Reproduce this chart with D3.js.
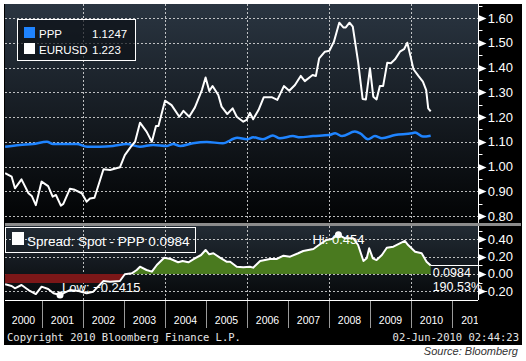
<!DOCTYPE html>
<html>
<head>
<meta charset="utf-8">
<script src="https://cdn.jsdelivr.net/npm/d3@7"></script>
<style>
  html, body { margin: 0; padding: 0; background: #fff; }
  svg { display: block; font-family: "Liberation Sans", Arial, sans-serif; }
</style>
</head>
<body>
<div id="chart"></div>
<script>
// EUR/USD spot (decimal year, value)
const spotDates = [2000.10, 2000.26, 2000.34, 2000.50, 2000.67, 2000.75, 2000.85, 2000.99, 2001.15, 2001.26,
    2001.34, 2001.46, 2001.52, 2001.68, 2001.80, 2001.97, 2002.09, 2002.17, 2002.28, 2002.50,
    2002.66, 2002.90, 2003.02, 2003.16, 2003.27, 2003.39, 2003.55, 2003.68, 2003.78, 2003.84,
    2004.00, 2004.16, 2004.35, 2004.45, 2004.59, 2004.73, 2004.90, 2004.99, 2005.08, 2005.16,
    2005.30, 2005.38, 2005.52, 2005.65, 2005.75, 2005.91, 2005.99, 2006.07, 2006.15, 2006.28,
    2006.41, 2006.60, 2006.74, 2006.90, 2007.03, 2007.17, 2007.31, 2007.41, 2007.60, 2007.68,
    2007.76, 2007.90, 2008.01, 2008.12, 2008.25, 2008.35, 2008.41, 2008.50, 2008.58, 2008.71,
    2008.82, 2008.90, 2009.00, 2009.08, 2009.16, 2009.24, 2009.32, 2009.42, 2009.51, 2009.61,
    2009.73, 2009.83, 2009.91, 2009.99, 2010.06, 2010.18, 2010.29, 2010.37, 2010.42, 2010.48];
const spotValues = [0.973, 0.959, 0.912, 0.948, 0.892, 0.881, 0.844, 0.939, 0.921, 0.878,
    0.885, 0.842, 0.849, 0.910, 0.906, 0.892, 0.858, 0.871, 0.874, 0.989,
    0.986, 0.997, 1.046, 1.078, 1.100, 1.177, 1.141, 1.100, 1.164, 1.164,
    1.266, 1.248, 1.201, 1.225, 1.201, 1.239, 1.309, 1.360, 1.305, 1.325,
    1.289, 1.242, 1.212, 1.235, 1.201, 1.181, 1.188, 1.217, 1.191, 1.228,
    1.280, 1.280, 1.269, 1.325, 1.306, 1.329, 1.366, 1.345, 1.370, 1.366,
    1.437, 1.464, 1.468, 1.504, 1.581, 1.562, 1.562, 1.581, 1.565, 1.423,
    1.273, 1.271, 1.397, 1.282, 1.271, 1.325, 1.325, 1.419, 1.417, 1.433,
    1.464, 1.474, 1.500, 1.444, 1.393, 1.366, 1.343, 1.309, 1.235, 1.223];

// PPP
const pppDates = [2000.10, 2000.46, 2000.78, 2001.12, 2001.27, 2001.85, 2002.10, 2002.41, 2002.73, 2003.07,
    2003.39, 2003.71, 2004.05, 2004.20, 2004.37, 2004.68, 2005.02, 2005.41, 2005.76, 2006.00,
    2006.15, 2006.39, 2006.63, 2006.80, 2007.12, 2007.29, 2007.61, 2008.00, 2008.15, 2008.32,
    2008.63, 2008.76, 2008.95, 2009.12, 2009.29, 2009.61, 2010.02, 2010.10, 2010.29, 2010.48];
const pppValues = [1.080, 1.087, 1.091, 1.100, 1.091, 1.091, 1.080, 1.080, 1.083, 1.091,
    1.080, 1.087, 1.083, 1.091, 1.083, 1.094, 1.099, 1.094, 1.116, 1.110,
    1.118, 1.110, 1.125, 1.114, 1.123, 1.118, 1.123, 1.127, 1.134, 1.123,
    1.141, 1.134, 1.110, 1.123, 1.114, 1.127, 1.134, 1.137, 1.121, 1.1247];

// Spread: Spot - PPP
const spreadDates = [2000.10, 2000.26, 2000.34, 2000.50, 2000.67, 2000.85, 2000.99, 2001.15, 2001.28, 2001.44,
    2001.68, 2001.89, 2002.09, 2002.25, 2002.50, 2002.66, 2002.90, 2003.02, 2003.19, 2003.31,
    2003.39, 2003.55, 2003.68, 2003.80, 2003.98, 2004.14, 2004.32, 2004.43, 2004.57, 2004.73,
    2004.88, 2004.99, 2005.08, 2005.18, 2005.34, 2005.50, 2005.59, 2005.75, 2005.91, 2006.07,
    2006.15, 2006.32, 2006.56, 2006.72, 2006.89, 2007.05, 2007.25, 2007.37, 2007.62, 2007.78,
    2007.94, 2008.07, 2008.23, 2008.39, 2008.59, 2008.71, 2008.84, 2008.92, 2008.98, 2009.07,
    2009.16, 2009.29, 2009.41, 2009.57, 2009.85, 2009.93, 2010.10, 2010.26, 2010.38, 2010.48];
const spreadValues = [-0.119, -0.138, -0.165, -0.127, -0.185, -0.231, -0.146, -0.173, -0.223, -0.2415,
    -0.185, -0.196, -0.223, -0.204, -0.081, -0.089, -0.081, -0.003, 0.008, 0.046,
    0.084, 0.046, 0.027, 0.104, 0.188, 0.173, 0.135, 0.150, 0.135, 0.181,
    0.219, 0.277, 0.227, 0.239, 0.188, 0.142, 0.142, 0.084, 0.077, 0.084,
    0.073, 0.150, 0.173, 0.173, 0.211, 0.200, 0.239, 0.265, 0.288, 0.343,
    0.392, 0.404, 0.454, 0.412, 0.412, 0.334, 0.150, 0.181, 0.296, 0.181,
    0.161, 0.219, 0.303, 0.315, 0.381, 0.334, 0.257, 0.239, 0.142, 0.0984];

const years = d3.range(2000, 2012);
const gridYears = [2002, 2004, 2006, 2008, 2010];
const topTicks = [1.6, 1.5, 1.4, 1.3, 1.2, 1.1, 1.0, 0.9, 0.8];
const bottomTicks = [0.4, 0.2, 0.0, -0.2];

const WHITE = "#ffffff";
const BLUE = "#1f84ff";
const GREEN = "#4a7a1f";
const RED = "#7c1718";
const MONO = "'DejaVu Sans Mono', 'Liberation Mono', monospace";

class SpotPppChart {
    constructor(selector) {
        this.width = 526;
        this.height = 361;
        this.left = 5;
        this.axisX = 478;

        this.spot = spotDates.map((d, i) => [d, spotValues[i]]);
        this.ppp = pppDates.map((d, i) => [d, pppValues[i]]);
        this.spread = spreadDates.map((d, i) => [d, spreadValues[i]]);

        this.svg = d3.select(selector).append("svg")
            .attr("width", this.width)
            .attr("height", this.height);

        this.createScales()
            .drawBackground()
            .drawGrid()
            .drawSpread()
            .drawLines()
            .drawAxes()
            .drawLegends()
            .drawFooter();
    }

    createScales() {
        this.x = d3.scaleLinear().domain([2000, 2012]).range([1, 493]);
        this.yTop = d3.scaleLinear().domain([0.7758, 1.6566]).range([222, 4]);
        this.yBot = d3.scaleLinear().domain([-0.3, 0.542]).range([300, 227]);
        return this;
    }

    drawBackground() {
        const defs = this.svg.append("defs");

        const g1 = defs.append("linearGradient").attr("id", "topBg")
            .attr("x1", 0).attr("y1", 0).attr("x2", 0).attr("y2", 1);
        g1.append("stop").attr("offset", "0%").attr("stop-color", "#2a3541");
        g1.append("stop").attr("offset", "100%").attr("stop-color", "#020304");

        const g2 = defs.append("linearGradient").attr("id", "botBg")
            .attr("x1", 0).attr("y1", 0).attr("x2", 0).attr("y2", 1);
        g2.append("stop").attr("offset", "0%").attr("stop-color", "#222b34");
        g2.append("stop").attr("offset", "100%").attr("stop-color", "#06080a");

        // red fill only shows a band just under zero
        const g3 = defs.append("linearGradient").attr("id", "redFill")
            .attr("gradientUnits", "userSpaceOnUse")
            .attr("x1", 0).attr("x2", 0)
            .attr("y1", this.yBot(0)).attr("y2", this.yBot(-0.3));
        g3.append("stop").attr("offset", "0%").attr("stop-color", RED);
        g3.append("stop").attr("offset", "33%").attr("stop-color", RED);
        g3.append("stop").attr("offset", "34%").attr("stop-color", RED).attr("stop-opacity", 0);
        g3.append("stop").attr("offset", "100%").attr("stop-color", RED).attr("stop-opacity", 0);

        defs.append("clipPath").attr("id", "clipTop").append("rect")
            .attr("x", this.left).attr("y", 4).attr("width", this.axisX - this.left).attr("height", 219);
        defs.append("clipPath").attr("id", "clipBot").append("rect")
            .attr("x", this.left).attr("y", 226).attr("width", this.axisX - this.left).attr("height", 74);
        defs.append("clipPath").attr("id", "clipYears").append("rect")
            .attr("x", this.left).attr("y", 300).attr("width", this.axisX - this.left).attr("height", 30);

        this.svg.append("rect").attr("x", 4).attr("y", 4).attr("width", 518).attr("height", 341)
            .attr("fill", "#000");
        this.svg.append("rect").attr("x", this.left).attr("y", 4)
            .attr("width", this.axisX - this.left).attr("height", 219).attr("fill", "url(#topBg)");
        this.svg.append("rect").attr("x", this.left).attr("y", 226)
            .attr("width", this.axisX - this.left).attr("height", 74).attr("fill", "url(#botBg)");
        this.svg.append("rect").attr("x", this.left).attr("y", 223)
            .attr("width", 516).attr("height", 3).attr("fill", "#8c8c8c");

        return this;
    }

    drawGrid() {
        const chart = this;
        const grid = this.svg.append("g")
            .attr("stroke", "#e8e8e8")
            .attr("stroke-width", 1)
            .attr("stroke-dasharray", "2,2")
            .attr("stroke-opacity", 0.8);

        grid.selectAll(".hgrid-top")
            .data(topTicks)
            .enter().append("line")
            .attr("x1", this.left).attr("x2", this.axisX)
            .attr("y1", d => Math.round(chart.yTop(d)) + 0.5)
            .attr("y2", d => Math.round(chart.yTop(d)) + 0.5);

        grid.selectAll(".hgrid-bot")
            .data(bottomTicks)
            .enter().append("line")
            .attr("x1", this.left).attr("x2", this.axisX)
            .attr("y1", d => Math.round(chart.yBot(d)) + 0.5)
            .attr("y2", d => Math.round(chart.yBot(d)) + 0.5);

        grid.selectAll(".vgrid-top")
            .data(gridYears)
            .enter().append("line")
            .attr("x1", d => Math.round(chart.x(d)) + 0.5)
            .attr("x2", d => Math.round(chart.x(d)) + 0.5)
            .attr("y1", 4).attr("y2", 223);

        grid.selectAll(".vgrid-bot")
            .data(gridYears)
            .enter().append("line")
            .attr("x1", d => Math.round(chart.x(d)) + 0.5)
            .attr("x2", d => Math.round(chart.x(d)) + 0.5)
            .attr("y1", 226).attr("y2", 300);

        return this;
    }

    drawSpread() {
        const chart = this;
        const g = this.svg.append("g").attr("clip-path", "url(#clipBot)");

        const pos = d3.area()
            .x(d => chart.x(d[0]))
            .y0(chart.yBot(0))
            .y1(d => chart.yBot(Math.max(d[1], 0)));
        const neg = d3.area()
            .x(d => chart.x(d[0]))
            .y0(chart.yBot(0))
            .y1(d => chart.yBot(Math.min(d[1], 0)));

        g.append("path").datum(this.spread).attr("d", neg).attr("fill", "url(#redFill)");
        g.append("path").datum(this.spread).attr("d", pos).attr("fill", GREEN);

        const line = d3.line().x(d => chart.x(d[0])).y(d => chart.yBot(d[1]));
        g.append("path").datum(this.spread).attr("d", line)
            .attr("fill", "none").attr("stroke", WHITE).attr("stroke-width", 2)
            .attr("stroke-linejoin", "round");

        // Hi / Low markers
        const hi = this.spread.reduce((a, b) => (b[1] > a[1] ? b : a));
        const lo = this.spread.reduce((a, b) => (b[1] < a[1] ? b : a));

        this.svg.append("text")
            .attr("x", chart.x(hi[0])).attr("y", 244)
            .attr("text-anchor", "middle")
            .attr("font-size", 13).attr("fill", WHITE)
            .text("Hi: " + d3.format(".3f")(hi[1]));
        this.svg.append("text")
            .attr("x", chart.x(lo[0]) + 2).attr("y", 292)
            .attr("font-size", 13).attr("fill", WHITE)
            .text("Low: " + d3.format(".4f")(lo[1]));

        this.svg.selectAll(".extreme")
            .data([hi, lo])
            .enter().append("circle")
            .attr("cx", d => chart.x(d[0]))
            .attr("cy", d => chart.yBot(d[1]))
            .attr("r", 3.5)
            .attr("fill", WHITE);

        // last value box
        const last = this.spread[this.spread.length - 1];
        const lx = chart.x(last[0]);
        this.svg.append("line")
            .attr("x1", lx).attr("x2", this.axisX)
            .attr("y1", 265.5).attr("y2", 265.5)
            .attr("stroke", WHITE).attr("stroke-width", 1);
        this.svg.append("text")
            .attr("x", lx + 2).attr("y", 277)
            .attr("font-size", 12.5).attr("fill", WHITE)
            .text(d3.format(".4f")(last[1]));
        this.svg.append("text")
            .attr("x", lx + 2).attr("y", 291)
            .attr("font-size", 12.5).attr("fill", WHITE)
            .text("190.53%");

        return this;
    }

    drawLines() {
        const chart = this;
        const g = this.svg.append("g").attr("clip-path", "url(#clipTop)");

        const pppLine = d3.line()
            .curve(d3.curveMonotoneX)
            .x(d => chart.x(d[0])).y(d => chart.yTop(d[1]));
        const spotLine = d3.line()
            .x(d => chart.x(d[0])).y(d => chart.yTop(d[1]));

        g.append("path").datum(this.ppp).attr("d", pppLine)
            .attr("fill", "none").attr("stroke", BLUE).attr("stroke-width", 2.5);
        g.append("path").datum(this.spot).attr("d", spotLine)
            .attr("fill", "none").attr("stroke", WHITE).attr("stroke-width", 2)
            .attr("stroke-linejoin", "round");

        return this;
    }

    drawAxes() {
        const chart = this;
        const ax = this.axisX + 0.5;

        // right axis lines
        this.svg.append("line").attr("x1", ax).attr("x2", ax).attr("y1", 4).attr("y2", 223)
            .attr("stroke", WHITE);
        this.svg.append("line").attr("x1", ax).attr("x2", ax).attr("y1", 226).attr("y2", 300)
            .attr("stroke", WHITE);

        const tri = y => `M${ax},${y - 3.5}L${ax + 8},${y}L${ax},${y + 3.5}Z`;

        // top axis
        const minorTop = d3.range(0.8, 1.66, 0.05).filter(v => Math.abs(Math.round(v * 10) - v * 10) > 0.01);
        this.svg.selectAll(".minor-top")
            .data(minorTop)
            .enter().append("line")
            .attr("x1", ax).attr("x2", ax + 4)
            .attr("y1", d => Math.round(chart.yTop(d)) + 0.5)
            .attr("y2", d => Math.round(chart.yTop(d)) + 0.5)
            .attr("stroke", WHITE);
        this.svg.selectAll(".tri-top")
            .data(topTicks)
            .enter().append("path")
            .attr("d", d => tri(Math.round(chart.yTop(d)) + 0.5))
            .attr("fill", WHITE);
        this.svg.selectAll(".lab-top")
            .data(topTicks)
            .enter().append("text")
            .attr("x", 513)
            .attr("y", d => chart.yTop(d) + 4.5)
            .attr("text-anchor", "end")
            .attr("font-size", 13)
            .attr("fill", WHITE)
            .text(d => d3.format(".2f")(d));

        // bottom axis
        const minorBot = [0.5, 0.3, 0.1, -0.1];
        this.svg.selectAll(".minor-bot")
            .data(minorBot)
            .enter().append("line")
            .attr("x1", ax).attr("x2", ax + 4)
            .attr("y1", d => Math.round(chart.yBot(d)) + 0.5)
            .attr("y2", d => Math.round(chart.yBot(d)) + 0.5)
            .attr("stroke", WHITE);
        this.svg.selectAll(".tri-bot")
            .data(bottomTicks)
            .enter().append("path")
            .attr("d", d => tri(Math.round(chart.yBot(d)) + 0.5))
            .attr("fill", WHITE);
        this.svg.selectAll(".lab-bot")
            .data(bottomTicks)
            .enter().append("text")
            .attr("x", 513)
            .attr("y", d => chart.yBot(d) + 4.5)
            .attr("text-anchor", "end")
            .attr("font-size", 13)
            .attr("fill", WHITE)
            .text(d => d3.format(".2f")(d));

        // time axis
        this.svg.append("line")
            .attr("x1", this.left).attr("x2", this.axisX)
            .attr("y1", 300.5).attr("y2", 300.5)
            .attr("stroke", WHITE);

        const yrs = this.svg.append("g").attr("clip-path", "url(#clipYears)");
        yrs.selectAll(".year-tick")
            .data(years.slice(1))
            .enter().append("line")
            .attr("x1", d => Math.round(chart.x(d)) + 0.5)
            .attr("x2", d => Math.round(chart.x(d)) + 0.5)
            .attr("y1", 301).attr("y2", 328)
            .attr("stroke", "#9a9a9a");
        yrs.selectAll(".year-label")
            .data(years)
            .enter().append("text")
            .attr("x", d => (Math.max(chart.x(d), chart.left) + chart.x(d + 1)) / 2)
            .attr("y", 324)
            .attr("text-anchor", "middle")
            .attr("font-size", 10.5)
            .attr("fill", WHITE)
            .text(d => d);

        return this;
    }

    drawLegends() {
        const top = this.svg.append("g");
        top.append("rect")
            .attr("x", 17.5).attr("y", 19.5).attr("width", 118).attr("height", 41)
            .attr("fill", "#0c1015").attr("fill-opacity", 0.7)
            .attr("stroke", WHITE).attr("stroke-width", 1);

        const items = [
            {name: "PPP", value: d3.format(".4f")(pppValues[pppValues.length - 1]), color: BLUE},
            {name: "EURUSD", value: d3.format(".3f")(spotValues[spotValues.length - 1]), color: WHITE}
        ];

        const row = top.selectAll(".legend-row")
            .data(items)
            .enter().append("g")
            .attr("transform", (d, i) => "translate(0," + (i * 16) + ")");
        row.append("rect")
            .attr("x", 24).attr("y", 27).attr("width", 11).attr("height", 11)
            .attr("fill", d => d.color);
        row.append("text")
            .attr("x", 39).attr("y", 37.5)
            .attr("font-size", 11.5).attr("fill", WHITE)
            .text(d => d.name);
        row.append("text")
            .attr("x", 92).attr("y", 37.5)
            .attr("font-size", 11.5).attr("fill", WHITE)
            .text(d => d.value);

        const bot = this.svg.append("g");
        bot.append("rect")
            .attr("x", 5.5).attr("y", 227.5).attr("width", 190).attr("height", 25)
            .attr("fill", "none")
            .attr("stroke", WHITE).attr("stroke-width", 1);
        bot.append("rect")
            .attr("x", 12).attr("y", 232).attr("width", 12).attr("height", 13)
            .attr("fill", WHITE);
        bot.append("text")
            .attr("x", 27).attr("y", 246)
            .attr("font-size", 13.5).attr("fill", WHITE)
            .text("Spread: Spot - PPP " + d3.format(".4f")(spreadValues[spreadValues.length - 1]));

        return this;
    }

    drawFooter() {
        this.svg.append("text")
            .attr("x", 7).attr("y", 341)
            .style("font-family", MONO)
            .attr("font-size", 10.5).attr("fill", "#e6e6e6")
            .text("Copyright 2010 Bloomberg Finance L.P.");
        this.svg.append("text")
            .attr("x", 519).attr("y", 341)
            .attr("text-anchor", "end")
            .style("font-family", MONO)
            .attr("font-size", 10.5).attr("fill", "#e6e6e6")
            .text("02-Jun-2010 02:44:23");
        this.svg.append("text")
            .attr("x", 518).attr("y", 355)
            .attr("text-anchor", "end")
            .attr("font-style", "italic")
            .attr("font-size", 11).attr("fill", "#333")
            .text("Source: Bloomberg");
        return this;
    }
}

new SpotPppChart("#chart");
</script>
</body>
</html>
